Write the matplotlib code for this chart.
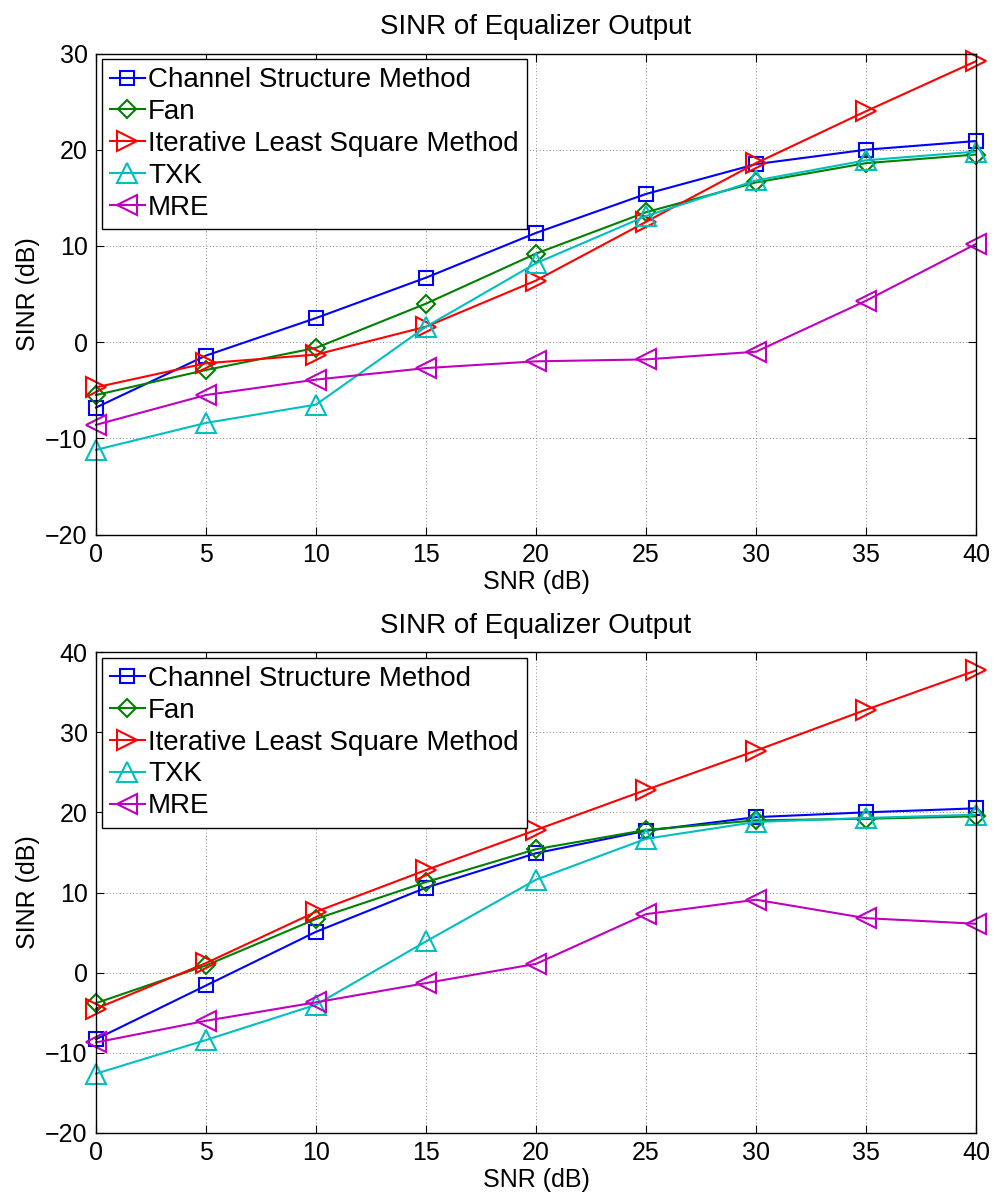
import numpy as np
import matplotlib
matplotlib.use("Agg")
import matplotlib.pyplot as plt

plt.rcParams['font.family'] = ['Liberation Sans', 'DejaVu Sans']

snr = [0, 5, 10, 15, 20, 25, 30, 35, 40]
labels = ["Channel Structure Method", "Fan", "Iterative Least Square Method", "TXK", "MRE"]

# upper panel
csm_a = [-6.8, -1.4, 2.5, 6.7, 11.35, 15.4, 18.5, 20.0, 20.9]
fan_a = [-5.5, -2.9, -0.6, 4.0, 9.2, 13.5, 16.6, 18.6, 19.5]
ilsm_a = [-4.7, -2.2, -1.3, 1.6, 6.4, 12.5, 18.6, 24.0, 29.2]
txk_a = [-11.2, -8.4, -6.5, 1.6, 8.2, 13.1, 16.8, 18.9, 19.8]
mre_a = [-8.6, -5.5, -3.9, -2.7, -2.0, -1.8, -1.0, 4.3, 10.2]

# lower panel
csm_b = [-8.3, -1.6, 5.1, 10.6, 14.9, 17.7, 19.4, 20.0, 20.5]
fan_b = [-3.8, 0.9, 6.7, 11.3, 15.4, 17.8, 19.0, 19.2, 19.5]
ilsm_b = [-4.5, 1.2, 7.6, 12.8, 17.8, 22.8, 27.7, 32.8, 37.7]
txk_b = [-12.6, -8.4, -4.0, 3.9, 11.6, 16.7, 18.8, 19.3, 19.7]
mre_b = [-8.7, -6.0, -3.7, -1.3, 1.1, 7.3, 9.1, 6.8, 6.1]

colors = ['#0000ff', '#008000', '#ff0000', '#00bfbf', '#bf00bf']
markers = ['s', 'D', '>', '^', '<']
msizes = [10.5, 9, 14, 14, 14]

fig = plt.figure(figsize=(9.94, 11.98), dpi=100)
ax1 = fig.add_axes([96 / 994, 1 - 534.5 / 1198, 880 / 994, 481 / 1198])
ax2 = fig.add_axes([96 / 994, 1 - 1133 / 1198, 880 / 994, 481 / 1198])


def draw_panel(ax, series, ylim, yticks):
    for vals, lab, c, m, ms in zip(series, labels, colors, markers, msizes):
        ax.plot(snr, vals, color=c, marker=m, markersize=ms, markerfacecolor='none',
                markeredgecolor=c, markeredgewidth=1.5, linewidth=1.5, label=lab,
                clip_on=False)
    ax.set_xlim(0, 40)
    ax.set_ylim(*ylim)
    ax.set_xticks(snr)
    ax.set_yticks(yticks)
    ax.set_yticklabels([str(t).replace('-', '\u2212') for t in yticks])
    ax.tick_params(direction='in', top=True, right=True, length=6, width=0.8,
                   labelsize=18, pad=6)
    ax.grid(True, linestyle=(0, (1, 3)), color='#666666', linewidth=0.6)
    for sp in ax.spines.values():
        sp.set_linewidth(1.0)
    ax.set_title("SINR of Equalizer Output", fontsize=20, pad=14)
    ax.set_xlabel("SNR (dB)", fontsize=18, labelpad=2)
    ax.set_ylabel("SINR (dB)", fontsize=18, labelpad=4)
    leg = ax.legend(loc='upper left', fontsize=20, handlelength=1.26, handletextpad=0.12,
                    labelspacing=0.21, borderpad=0.3, borderaxespad=0.2,
                    fancybox=False, framealpha=1, edgecolor='black')
    leg.get_frame().set_linewidth(1.0)


draw_panel(ax1, [csm_a, fan_a, ilsm_a, txk_a, mre_a], (-20, 30), [-20, -10, 0, 10, 20, 30])
draw_panel(ax2, [csm_b, fan_b, ilsm_b, txk_b, mre_b], (-20, 40), [-20, -10, 0, 10, 20, 30, 40])

fig.savefig("out.png", dpi=100)
